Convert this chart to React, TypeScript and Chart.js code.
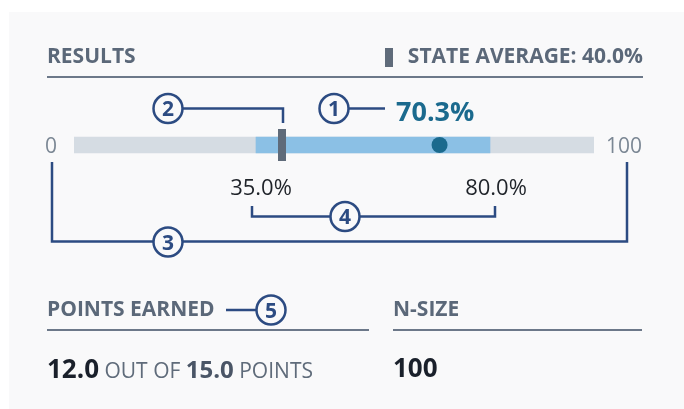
import React, { useEffect, useRef } from "react";
import { Chart, registerables } from "chart.js";

Chart.register(...registerables);

// ---- data ----
const categories = ["Results"];
const scaleRange = [0, 100];
const scaleLabels = ["0", "100"];
const resultRange = [35.0, 80.0];
const stateAverage = [40.0];
const schoolResult = [70.3];
const pointsEarned = [12.0];
const pointsPossible = [15.0];
const nSize = [100];

const FONT = '"Open Sans", "Noto Sans", sans-serif';
const NAVY = "#2c4b82";
const SLATE = "#5b6879";

const annotations = {
  id: "annotations",
  afterDatasetsDraw(chart: any) {
    const { ctx, chartArea, scales } = chart;
    const x = scales.x;
    const cy = (chartArea.top + chartArea.bottom) / 2;
    const x0 = x.getPixelForValue(scaleRange[0]);
    const x1 = x.getPixelForValue(scaleRange[1]);
    const xLo = x.getPixelForValue(resultRange[0]);
    const xHi = x.getPixelForValue(resultRange[1]);
    const xAvg = x.getPixelForValue(stateAverage[0]);

    const circle = (cx: number, cyy: number, n: string) => {
      ctx.beginPath();
      ctx.arc(cx, cyy, 14.5, 0, Math.PI * 2);
      ctx.fillStyle = "#f9f9fa";
      ctx.fill();
      ctx.lineWidth = 2.5;
      ctx.strokeStyle = NAVY;
      ctx.stroke();
      ctx.fillStyle = NAVY;
      ctx.font = `bold 21px ${FONT}`;
      ctx.textAlign = "center";
      ctx.textBaseline = "alphabetic";
      ctx.fillText(n, cx, cyy + 7.8);
    };
    const path = (pts: number[][]) => {
      ctx.beginPath();
      ctx.moveTo(pts[0][0], pts[0][1]);
      for (let i = 1; i < pts.length; i++) ctx.lineTo(pts[i][0], pts[i][1]);
      ctx.lineWidth = 2.5;
      ctx.strokeStyle = NAVY;
      ctx.lineJoin = "miter";
      ctx.stroke();
    };

    ctx.save();
    // scale end labels
    ctx.font = `21px ${FONT}`;
    ctx.fillStyle = "#7b8794";
    ctx.textBaseline = "alphabetic";
    ctx.textAlign = "right";
    ctx.fillText(scaleLabels[0], x0 - 17, cy + 8);
    ctx.textAlign = "left";
    ctx.fillText(scaleLabels[1], x1 + 12, cy + 8);

    // range labels
    ctx.font = `22px ${FONT}`;
    ctx.fillStyle = "#1f2329";
    ctx.textAlign = "center";
    ctx.fillText(`${resultRange[0].toFixed(1)}%`, xLo + 5, cy + 50);
    ctx.fillText(`${resultRange[1].toFixed(1)}%`, xHi + 6, cy + 50);

    // school result label
    ctx.font = `bold 27px ${FONT}`;
    ctx.fillStyle = "#1b6a8e";
    ctx.textAlign = "left";
    ctx.fillText(`${schoolResult[0].toFixed(1)}%`, 396, cy - 24);

    // annotation 1
    path([[348, cy - 36.5], [385, cy - 36.5]]);
    circle(334, cy - 36.5, "1");
    // annotation 2
    path([[182, cy - 36.5], [xAvg + 1, cy - 36.5], [xAvg + 1, cy - 22]]);
    circle(168, cy - 36.5, "2");
    // annotation 3 (full scale bracket)
    path([[52, cy + 17], [52, cy + 96.5], [627, cy + 96.5], [627, cy + 17]]);
    circle(168, cy + 97, "3");
    // annotation 4 (range bracket)
    path([[xLo - 4, cy + 61], [xLo - 4, cy + 71.5], [xHi + 5, cy + 71.5], [xHi + 5, cy + 61]]);
    circle(345, cy + 71.5, "4");
    // annotation 5 (points earned)
    path([[226, 310], [256, 310]]);
    circle(271, 310, "5");
    ctx.restore();
  },
};

function ChartCanvas() {
  const ref = useRef<HTMLCanvasElement | null>(null);
  useEffect(() => {
    if (!ref.current) return;
    const chart = new Chart(ref.current, {
      type: "bar",
      data: {
        labels: categories,
        datasets: [
          {
            type: "line",
            label: "School result",
            data: schoolResult,
            showLine: false,
            pointRadius: 8,
            pointHoverRadius: 8,
            pointBackgroundColor: "#1b6a8e",
            pointBorderColor: "#1b6a8e",
            pointBorderWidth: 0,
            clip: false,
            order: 1,
          } as any,
          {
            type: "line",
            label: "State average",
            data: stateAverage,
            showLine: false,
            pointStyle: "line",
            pointRotation: 90,
            pointRadius: 16,
            pointHoverRadius: 16,
            pointBorderWidth: 8,
            pointBorderColor: "#5f6b7a",
            borderColor: "#5f6b7a",
            clip: false,
            order: 2,
          } as any,
          {
            label: "Range",
            data: [resultRange as any],
            backgroundColor: "#8bc0e5",
            barThickness: 16,
            grouped: false,
            borderSkipped: false,
            order: 3,
          } as any,
          {
            label: "Scale",
            data: [scaleRange as any],
            backgroundColor: "#d5dce3",
            barThickness: 16,
            grouped: false,
            borderSkipped: false,
            order: 4,
          } as any,
        ],
      },
      options: {
        indexAxis: "y",
        animation: false,
        responsive: false,
        devicePixelRatio: 1,
        events: [],
        layout: { padding: { left: 74, right: 90, top: 129, bottom: 248 } },
        plugins: { legend: { display: false }, tooltip: { enabled: false }, title: { display: false } },
        scales: {
          x: { type: "linear", min: scaleRange[0], max: scaleRange[1], display: false, grid: { display: false } },
          y: { type: "category", display: false, grid: { display: false } },
        },
      } as any,
      plugins: [annotations],
    });
    return () => chart.destroy();
  }, []);
  return (
    <canvas
      ref={ref}
      width={684}
      height={409}
      style={{ position: "absolute", left: 0, top: 0, width: 684, height: 409 }}
    />
  );
}

const txt = (left: number, baseline: number, size: number, extra: React.CSSProperties = {}) =>
  ({
    position: "absolute",
    left,
    top: baseline - 0.888 * size,
    fontSize: size,
    lineHeight: `${size}px`,
    fontFamily: FONT,
    whiteSpace: "nowrap",
    ...extra,
  } as React.CSSProperties);

export default function App() {
  return (
    <div style={{ position: "absolute", left: 0, top: 0, width: 684, height: 409, overflow: "hidden", background: "#fff" }}>
      <div style={{ position: "absolute", left: 9, top: 12, right: 0, bottom: 0, background: "#f9f9fa" }} />
      <ChartCanvas />
      {/* header */}
      <div style={txt(47, 63.5, 21, { fontWeight: 700, color: SLATE })}>RESULTS</div>
      <div style={{ position: "absolute", left: 385, top: 48, width: 8, height: 19, background: "#5f6b7a" }} />
      <div style={txt(0, 63.5, 21, { left: "auto", right: 684 - 643, fontWeight: 700, color: SLATE })}>
        {`STATE AVERAGE: ${stateAverage[0].toFixed(1)}%`}
      </div>
      <div style={{ position: "absolute", left: 47, top: 76, width: 596, height: 2, background: "#6c7889" }} />

      {/* footer */}
      <div style={txt(47, 316.7, 21, { fontWeight: 700, color: SLATE })}>POINTS EARNED</div>
      <div style={{ position: "absolute", left: 47, top: 329, width: 322, height: 2, background: "#6c7889" }} />
      <div style={txt(393, 316.7, 21, { fontWeight: 700, color: SLATE })}>N-SIZE</div>
      <div style={{ position: "absolute", left: 393, top: 329, width: 249, height: 2, background: "#6c7889" }} />

      <div style={txt(47, 376.7, 21, { color: "#5f6b7a" })}>
        <span style={{ fontWeight: 700, fontSize: 26, color: "#1a202b" }}>{pointsEarned[0].toFixed(1)}</span>
        {" OUT OF "}
        <span style={{ fontWeight: 700, fontSize: 24, color: "#4a5566" }}>{pointsPossible[0].toFixed(1)}</span>
        {" POINTS"}
      </div>
      <div style={txt(393, 376.7, 26, { fontWeight: 700, color: "#1a202b" })}>{String(nSize[0])}</div>
    </div>
  );
}
